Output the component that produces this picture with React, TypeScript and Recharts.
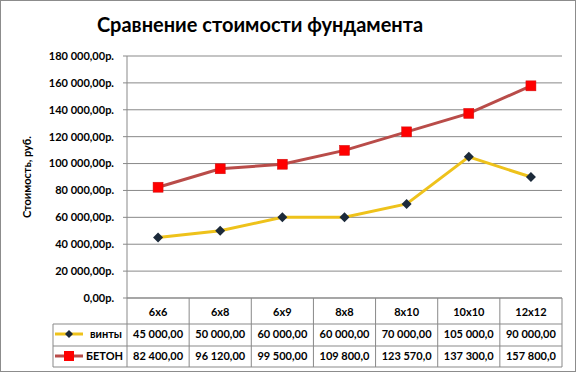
import React from 'react';
import { LineChart, Line, XAxis, YAxis, CartesianGrid } from 'recharts';

const categories = ['6x6', '6x8', '6x9', '8x8', '8x10', '10x10', '12x12'];
const vintyValues = [45000, 50000, 60000, 60000, 70000, 105000, 90000];
const betonValues = [82400, 96120, 99500, 109800, 123570, 137300, 157800];
const seriesNames = ['винты', 'БЕТОН'];
const yTicks = [0, 20000, 40000, 60000, 80000, 100000, 120000, 140000, 160000, 180000];

const data = categories.map((name, i) => ({
  name,
  vinty: vintyValues[i],
  beton: betonValues[i],
}));

const W = 578;
const H = 376;
const PLOT_LEFT = 127;
const PLOT_RIGHT = 562;
const PLOT_TOP = 56;
const PLOT_BOTTOM = 298;
const BAND = (PLOT_RIGHT - PLOT_LEFT) / categories.length;
const ROW1 = 324;
const ROW2 = 346;
const ROW3 = 367;
const TABLE_LEFT = 53;

const GRID = '#898989';
const YELLOW = '#EEC21B';
const NAVY = '#1C2A3A';
const BRICK = '#B94C49';
const RED = '#FF0000';
const FONT = 'Lato, "Open Sans", sans-serif';

const group = (v: number) => String(Math.trunc(v)).replace(/\B(?=(\d{3})+(?!\d))/g, ' ');
const formatRub = (v: number) => `${group(v)},00р.`;
// excel cuts the cell text when the column is too narrow
const formatCell = (v: number) => `${group(v)},00`.slice(0, 9);

const TableTick = (props: any) => {
  const { x, payload } = props;
  const i = payload.index;
  const half = BAND / 2;
  return (
    <g>
      <line x1={x + half} x2={x + half} y1={PLOT_BOTTOM} y2={ROW3} stroke={GRID} />
      <text x={x} y={316} textAnchor="middle" fontSize={11} fontWeight={700} fill="#000" fontFamily={FONT}>
        {payload.value}
      </text>
      <text x={x} y={338} textAnchor="middle" fontSize={11} fontWeight={700} fill="#000" fontFamily={FONT}>
        {formatCell(vintyValues[i])}
      </text>
      <text x={x} y={360} textAnchor="middle" fontSize={11} fontWeight={700} fill="#000" fontFamily={FONT}>
        {formatCell(betonValues[i])}
      </text>
    </g>
  );
};

const Diamond = (props: any) => {
  const { cx, cy, index } = props;
  if (cx == null || cy == null) return <g key={index} />;
  const r = 5;
  return (
    <path
      key={index}
      d={`M${cx},${cy - r}L${cx + r},${cy}L${cx},${cy + r}L${cx - r},${cy}Z`}
      fill={NAVY}
    />
  );
};

const Square = (props: any) => {
  const { cx, cy, index } = props;
  if (cx == null || cy == null) return <g key={index} />;
  const s = 10;
  return <rect key={index} x={cx - s / 2} y={cy - s / 2} width={s} height={s} fill={RED} stroke="#D01010" strokeWidth={0.5} />;
};

const App: React.FC = () => {
  return (
    <div style={{ position: 'absolute', left: 0, top: 0, width: W, height: H, background: '#fff' }}>
      <div
        style={{
          position: 'absolute',
          left: 0,
          top: 0,
          width: 576,
          height: 372,
          border: '1px solid #8c8c8c',
          boxSizing: 'border-box',
        }}
      />
      <LineChart
        width={W}
        height={H}
        data={data}
        margin={{ top: PLOT_TOP, right: W - PLOT_RIGHT, bottom: 0, left: 0 }}
      >
        <text x={260} y={32} textAnchor="middle" fontSize={20} fontWeight={700} fill="#000" fontFamily={FONT}>
          Сравнение стоимости фундамента
        </text>
        <CartesianGrid vertical={false} stroke={GRID} strokeDasharray="" />
        <XAxis
          dataKey="name"
          interval={0}
          height={H - PLOT_BOTTOM}
          padding={{ left: BAND / 2, right: BAND / 2 }}
          tickLine={false}
          axisLine={{ stroke: GRID }}
          tick={<TableTick />}
        />
        <YAxis
          width={PLOT_LEFT}
          domain={[0, 180000]}
          ticks={yTicks}
          interval={0}
          tickFormatter={formatRub}
          tickLine={{ stroke: GRID }}
          tickSize={4}
          tickMargin={9}
          axisLine={{ stroke: GRID }}
          tick={{ fill: '#000', fontSize: 11, fontWeight: 700, fontFamily: FONT }}
          label={{
            value: 'Стоимость, руб.',
            angle: -90,
            position: 'insideLeft',
            offset: 27,
            style: { textAnchor: 'middle', fontSize: 11, fontWeight: 700, fill: '#000', fontFamily: FONT },
          }}
        />
        <Line
          type="linear"
          dataKey="vinty"
          name={seriesNames[0]}
          stroke={YELLOW}
          strokeWidth={3}
          dot={<Diamond />}
          isAnimationActive={false}
        />
        <Line
          type="linear"
          dataKey="beton"
          name={seriesNames[1]}
          stroke={BRICK}
          strokeWidth={3}
          dot={<Square />}
          isAnimationActive={false}
        />
      </LineChart>
      <svg width={W} height={H} style={{ position: 'absolute', left: 0, top: 0, pointerEvents: 'none' }}>
        <line x1={PLOT_LEFT} x2={PLOT_LEFT} y1={PLOT_BOTTOM} y2={ROW3} stroke={GRID} />
        <line x1={TABLE_LEFT} x2={TABLE_LEFT} y1={ROW1} y2={ROW3} stroke={GRID} />
        {[ROW1, ROW2, ROW3].map((y) => (
          <line key={y} x1={TABLE_LEFT} x2={PLOT_RIGHT} y1={y} y2={y} stroke={GRID} />
        ))}
        <line x1={55} x2={83} y1={334} y2={334} stroke={YELLOW} strokeWidth={3} />
        <path d="M69,330L73,334L69,338L65,334Z" fill={NAVY} />
        <text x={122} y={338} textAnchor="end" fontSize={11} fontWeight={700} fill="#000" fontFamily={FONT}>
          {seriesNames[0]}
        </text>
        <line x1={55} x2={83} y1={356} y2={356} stroke={BRICK} strokeWidth={3} />
        <rect x={64} y={351} width={10} height={10} fill={RED} />
        <text x={123} y={360} textAnchor="end" fontSize={11} fontWeight={700} fill="#000" fontFamily={FONT}>
          {seriesNames[1]}
        </text>
      </svg>
    </div>
  );
};

export default App;
